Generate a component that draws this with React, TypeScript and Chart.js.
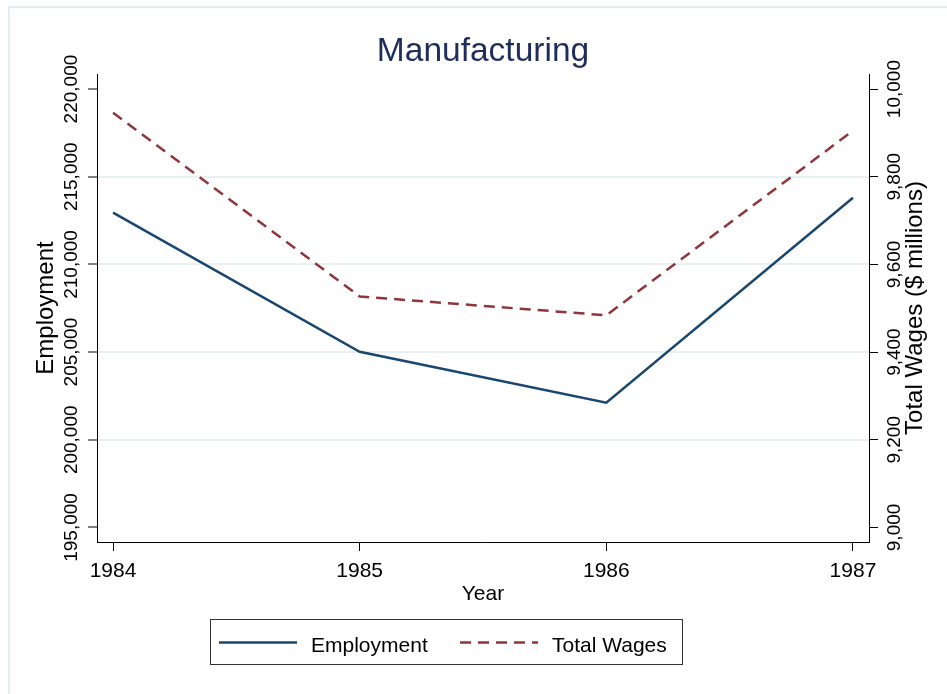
import React, { useEffect, useRef } from 'react';
import { Chart, registerables } from 'chart.js';

Chart.register(...registerables);

// ---- data ----
const years = [1984, 1985, 1986, 1987];
const employment = [212950, 205020, 202120, 213800];
const totalWages = [9946, 9527, 9484, 9905];
const employmentTicks = [195000, 200000, 205000, 210000, 215000, 220000];
const wageTicks = [9000, 9200, 9400, 9600, 9800, 10000];

// ---- axis ranges ----
const xMin = 1983.935;
const xMax = 1987.065;
const empMin = 194170;
const empMax = 220860;
const wageMin = 9000 + (empMin - 195000) / 25;
const wageMax = 9000 + (empMax - 195000) / 25;

const FONT = "'Liberation Sans', Arial, Helvetica, sans-serif";
const NAVY = '#1a476f';
const MAROON = '#90353b';
const GRID = '#e8f0f2';
const TITLE_COLOR = '#1f2d5c';

const decorPlugin = {
  id: 'decor',
  beforeDraw(chart: any) {
    const { ctx, width, height } = chart;
    ctx.save();
    ctx.fillStyle = '#ffffff';
    ctx.fillRect(0, 0, width, height);
    ctx.strokeStyle = '#e4eef0';
    ctx.lineWidth = 2;
    ctx.strokeRect(9, 7, width + 40, height + 40);
    ctx.restore();
  },
  afterDraw(chart: any) {
    const { ctx, chartArea } = chart;
    const yL = chart.scales.y;
    const yR = chart.scales.y1;
    const midY = (chartArea.top + chartArea.bottom) / 2;
    const drawRot = (text: string, x: number, y: number) => {
      ctx.save();
      ctx.translate(x, y);
      ctx.rotate(-Math.PI / 2);
      ctx.fillText(text, 0, 0);
      ctx.restore();
    };
    ctx.save();
    ctx.fillStyle = '#000';
    ctx.textAlign = 'center';
    ctx.textBaseline = 'middle';
    ctx.font = `19px ${FONT}`;
    yL.ticks.forEach((t: any) =>
      drawRot(Number(t.value).toLocaleString('en-US'), 72, yL.getPixelForValue(t.value))
    );
    yR.ticks.forEach((t: any) =>
      drawRot(Number(t.value).toLocaleString('en-US'), 895, yR.getPixelForValue(t.value))
    );
    ctx.font = `24px ${FONT}`;
    drawRot('Total Wages ($ millions)', 915, midY);

    // legend
    const box = { x: 210.5, y: 619.5, w: 472, h: 45 };
    ctx.strokeStyle = '#333';
    ctx.lineWidth = 1;
    ctx.strokeRect(box.x, box.y, box.w, box.h);
    const sampleX = [219, 460];
    const sampleLen = 78;
    const textGap = 14;
    const ly = 642.5;
    chart.data.datasets.forEach((ds: any, i: number) => {
      ctx.save();
      ctx.strokeStyle = ds.borderColor;
      ctx.lineWidth = ds.borderWidth;
      ctx.setLineDash(ds.borderDash || []);
      ctx.beginPath();
      ctx.moveTo(sampleX[i], ly);
      ctx.lineTo(sampleX[i] + sampleLen, ly);
      ctx.stroke();
      ctx.restore();
      ctx.font = `21px ${FONT}`;
      ctx.textAlign = 'left';
      ctx.textBaseline = 'alphabetic';
      ctx.fillStyle = '#000';
      ctx.fillText(ds.label, sampleX[i] + sampleLen + textGap, 651.5);
    });
    ctx.restore();
  },
};

export default function App() {
  const ref = useRef<HTMLCanvasElement>(null);

  useEffect(() => {
    if (!ref.current) return;
    const chart = new Chart(ref.current, {
      type: 'line',
      data: {
        datasets: [
          {
            label: 'Employment',
            data: years.map((y, i) => ({ x: y, y: employment[i] })),
            borderColor: NAVY,
            backgroundColor: NAVY,
            borderWidth: 2.5,
            pointRadius: 0,
            tension: 0,
            fill: false,
            yAxisID: 'y',
          },
          {
            label: 'Total Wages',
            data: years.map((y, i) => ({ x: y, y: totalWages[i] })),
            borderColor: MAROON,
            backgroundColor: MAROON,
            borderWidth: 2.5,
            borderDash: [11, 7],
            pointRadius: 0,
            tension: 0,
            fill: false,
            yAxisID: 'y1',
          },
        ],
      },
      options: {
        responsive: false,
        devicePixelRatio: 1,
        animation: false,
        events: [],
        layout: { padding: { top: 0, left: 0, right: 0, bottom: 86.7 } },
        plugins: {
          legend: { display: false },
          tooltip: { enabled: false },
          title: {
            display: true,
            text: 'Manufacturing',
            fullSize: false,
            color: TITLE_COLOR,
            font: { size: 33.5, family: FONT, weight: 'normal', lineHeight: 1.2 },
            padding: { top: 31.9, bottom: 1.9 },
          },
        },
        scales: {
          x: {
            type: 'linear',
            min: xMin,
            max: xMax,
            afterBuildTicks: (s: any) => {
              s.ticks = years.map((v) => ({ value: v }));
            },
            afterFit: (s: any) => {
              s.height = 65.3;
            },
            ticks: {
              callback: (v: any) => String(v),
              color: '#000',
              font: { size: 21, family: FONT },
              padding: 8,
              maxRotation: 0,
              autoSkip: false,
            },
            grid: {
              display: true,
              drawOnChartArea: false,
              drawTicks: true,
              tickLength: 9,
              tickColor: '#000',
              tickWidth: 1,
            },
            border: { display: true, color: '#000', width: 1 },
            title: {
              display: true,
              text: 'Year',
              color: '#000',
              font: { size: 21, family: FONT },
              padding: { top: 0, bottom: 0 },
            },
          },
          y: {
            type: 'linear',
            position: 'left',
            min: empMin,
            max: empMax,
            afterBuildTicks: (s: any) => {
              s.ticks = employmentTicks.map((v) => ({ value: v }));
            },
            afterFit: (s: any) => {
              s.width = 97;
            },
            ticks: { display: false },
            grid: {
              display: true,
              drawOnChartArea: true,
              color: (c: any) =>
                c.tick &&
                (c.tick.value === employmentTicks[0] ||
                  c.tick.value === employmentTicks[employmentTicks.length - 1])
                  ? 'rgba(0,0,0,0)'
                  : GRID,
              lineWidth: 2,
              drawTicks: true,
              tickLength: 9,
              tickColor: '#000',
              tickWidth: 1,
            },
            border: { display: true, color: '#000', width: 1 },
            title: {
              display: true,
              text: 'Employment',
              color: '#000',
              font: { size: 24, family: FONT },
              padding: { top: 32, bottom: 0 },
            },
          },
          y1: {
            type: 'linear',
            position: 'right',
            min: wageMin,
            max: wageMax,
            afterBuildTicks: (s: any) => {
              s.ticks = wageTicks.map((v) => ({ value: v }));
            },
            afterFit: (s: any) => {
              s.width = 78;
            },
            ticks: { display: false },
            grid: {
              display: true,
              drawOnChartArea: false,
              drawTicks: true,
              tickLength: 9,
              tickColor: '#000',
              tickWidth: 1,
            },
            border: { display: true, color: '#000', width: 1 },
          },
        },
      } as any,
      plugins: [decorPlugin],
    });
    return () => chart.destroy();
  }, []);

  return (
    <div
      style={{
        position: 'absolute',
        left: 0,
        top: 0,
        width: 947,
        height: 694,
        background: '#fff',
      }}
    >
      <canvas
        ref={ref}
        width={947}
        height={694}
        style={{ width: 947, height: 694, display: 'block' }}
      />
    </div>
  );
}
